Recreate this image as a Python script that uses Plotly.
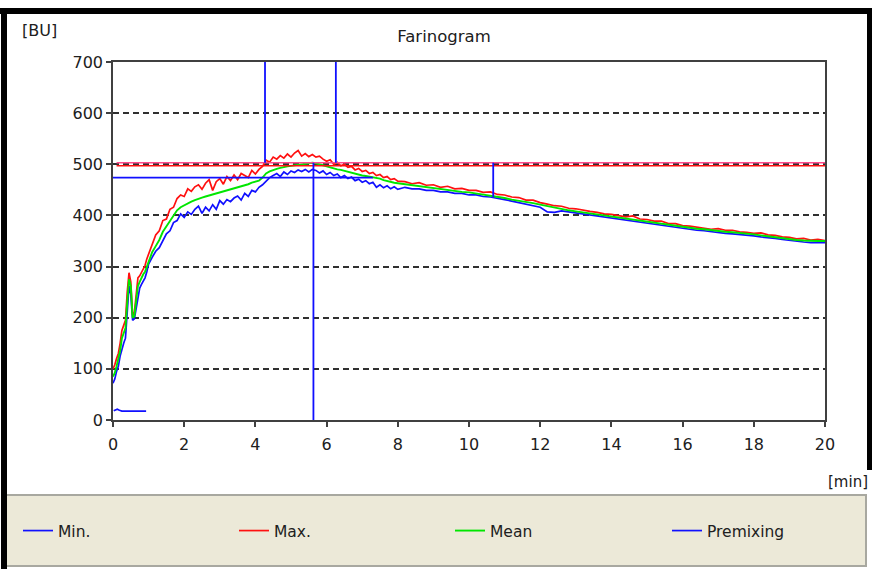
import plotly.graph_objects as go

# ---------------- data ----------------
time_min = [
    0.00, 0.05, 0.10, 0.15, 0.20, 0.25, 0.30, 0.35, 0.40, 0.45, 0.50,
    0.55, 0.60, 0.65, 0.70, 0.75, 0.80, 0.85, 0.90, 0.95, 1.00,
    1.1, 1.2, 1.3, 1.4, 1.5, 1.6, 1.7, 1.8, 1.9, 2.0,
    2.1, 2.2, 2.3, 2.4, 2.5, 2.6, 2.7, 2.8, 2.9, 3.0,
    3.1, 3.2, 3.3, 3.4, 3.5, 3.6, 3.7, 3.8, 3.9, 4.0,
    4.1, 4.2, 4.3, 4.4, 4.5, 4.6, 4.7, 4.8, 4.9, 5.0,
    5.1, 5.2, 5.3, 5.4, 5.5, 5.6, 5.7, 5.8, 5.9, 6.0,
    6.1, 6.2, 6.3, 6.4, 6.5, 6.6, 6.7, 6.8, 6.9, 7.0,
    7.1, 7.2, 7.3, 7.4, 7.5, 7.6, 7.7, 7.8, 7.9, 8.0,
    8.2, 8.4, 8.6, 8.8, 9.0, 9.2, 9.4, 9.6, 9.8, 10.0,
    10.2, 10.4, 10.6, 10.8, 11.0, 11.2, 11.4, 11.6, 11.8, 12.0,
    12.2, 12.4, 12.6, 12.8, 13.0, 13.2, 13.4, 13.6, 13.8, 14.0,
    14.2, 14.4, 14.6, 14.8, 15.0, 15.2, 15.4, 15.6, 15.8, 16.0,
    16.2, 16.4, 16.6, 16.8, 17.0, 17.2, 17.4, 17.6, 17.8, 18.0,
    18.2, 18.4, 18.6, 18.8, 19.0, 19.2, 19.4, 19.6, 19.8, 20.0,
]

bu_max = [
    100, 108, 120, 130, 150, 175, 185, 195, 250, 288, 270,
    205, 210, 250, 278, 282, 288, 295, 302, 315, 325,
    345, 362, 370, 390, 393, 412, 416, 433, 440, 437,
    452, 447, 456, 460, 451, 463, 470, 449, 466, 472,
    461, 476, 468, 479, 470, 482, 478, 474, 488, 481,
    490, 496, 508, 504, 514, 510, 517, 512, 520, 514,
    522, 527, 516, 521, 515, 519, 514, 516, 510, 506,
    509, 500, 504, 497, 500, 494, 496, 489, 492, 486,
    488, 482, 484, 478, 480, 474, 476, 470, 472, 467,
    466, 462, 464, 459, 460, 455, 457, 452, 453, 449,
    449, 445, 446, 441, 440, 436, 435, 430, 430, 425,
    422, 419, 418, 414, 413, 410, 408, 406, 403, 402,
    399, 397, 399, 393, 392, 389, 389, 384, 384, 380,
    379, 377, 376, 373, 374, 371, 371, 368, 367, 365,
    366, 362, 361, 358, 357, 354, 355, 352, 353, 351,
]

bu_mean = [
    85, 92, 105, 118, 135, 160, 170, 180, 230, 275, 262,
    200, 203, 235, 262, 270, 278, 285, 290, 300, 310,
    328, 340, 352, 368, 378, 390, 400, 410, 416, 420,
    424, 427, 430, 433, 435, 437, 439, 440, 442, 444,
    446, 448, 450, 452, 454, 456, 458, 461, 464, 466,
    468, 474, 482, 486, 489, 491, 493, 495, 496, 497,
    498, 499, 500, 501, 502, 503, 502, 500, 497, 495,
    493, 492, 490, 489, 487, 485, 483, 481, 479, 478,
    477, 476, 475, 474, 472, 469, 467, 465, 464, 463,
    461, 459, 457, 455, 453, 451, 450, 448, 446, 445,
    443, 441, 439, 437, 434, 431, 429, 426, 424, 421,
    418, 416, 413, 410, 408, 406, 404, 402, 400, 398,
    396, 394, 392, 390, 388, 386, 384, 381, 379, 378,
    376, 374, 373, 371, 370, 368, 367, 366, 364, 363,
    361, 359, 357, 355, 354, 352, 351, 350, 350, 350,
]

bu_min = [
    72, 80, 95, 105, 125, 140, 150, 160, 210, 262, 245,
    195, 198, 220, 240, 258, 265, 272, 278, 290, 305,
    318, 330, 337, 350, 364, 370, 386, 390, 403, 396,
    407, 402, 412, 418, 404, 416, 409, 421, 412, 429,
    422, 431, 427, 434, 438, 430, 443, 437, 449, 446,
    455, 460, 468, 474, 478, 482, 476, 485, 480, 487,
    484, 489, 486, 490, 485, 490, 488, 483, 487, 480,
    484, 478, 481, 474, 478, 472, 475, 468, 471, 465,
    468, 462, 465, 455, 460, 454, 458, 452, 456, 451,
    455, 452, 452, 449, 449, 446, 446, 443, 443, 440,
    440, 437, 436, 434, 431, 428, 425, 422, 420, 416,
    407, 406, 409, 407, 405, 402, 401, 399, 397, 395,
    393, 391, 389, 387, 385, 383, 381, 378, 376, 375,
    373, 371, 370, 368, 367, 365, 364, 363, 361, 360,
    358, 357, 355, 353, 351, 349, 348, 347, 347, 347,
]

premix_time = [0.02, 0.08, 0.12, 0.18, 0.25, 0.40, 0.60, 0.80, 0.93]
premix_bu = [18, 20, 21, 19, 17.5, 17.5, 17.5, 17.5, 17.5]

x_ticks = [0, 2, 4, 6, 8, 10, 12, 14, 16, 18, 20]
y_ticks = [0, 100, 200, 300, 400, 500, 600, 700]

# evaluation lines
consistency_bu = [503, 497]          # upper (pink) and lower (red) 500 BU lines
consistency_t = [0.1, 20]
tolerance_bu = 474                   # blue horizontal line
tolerance_t = [0, 7.3]
vline_t = [4.27, 6.26, 5.63, 10.68]
vline_from = [503, 503, 0, 436]
vline_to = [700, 700, 503, 503]

# ---------------- layout constants ----------------
W, H = 872, 569
ML, MR, MT, MB = 113, 47, 62, 149
PW, PH = W - ML - MR, H - MT - MB


def px_x(X):
    return (X - ML) / PW


def px_y(Y):
    return (H - MB - Y) / PH


BLUE = "#1010FF"
RED = "#FF1010"
GREEN = "#00E600"
PINK = "#FF4C8C"
FONT = "DejaVu Sans"
TXT = "#202020"

fig = go.Figure()

fig.add_trace(go.Scatter(x=time_min, y=bu_min, mode="lines", name="Min.",
                         line=dict(color=BLUE, width=1.7)))
fig.add_trace(go.Scatter(x=time_min, y=bu_max, mode="lines", name="Max.",
                         line=dict(color=RED, width=1.7)))
fig.add_trace(go.Scatter(x=time_min, y=bu_mean, mode="lines", name="Mean",
                         line=dict(color=GREEN, width=1.9)))
fig.add_trace(go.Scatter(x=premix_time, y=premix_bu, mode="lines", name="Premixing",
                         line=dict(color=BLUE, width=1.7), legend="legend2"))

shapes = []
# legend panel
shapes.append(dict(type="rect", xref="paper", yref="paper",
                   x0=px_x(5), x1=px_x(866), y0=px_y(566), y1=px_y(495),
                   fillcolor="#ECE9D8", line=dict(color="#A8A8A0", width=2),
                   layer="below"))
# horizontal evaluation lines
for c, yv in zip([PINK, RED], consistency_bu):
    shapes.append(dict(type="line", xref="x", yref="y",
                       x0=consistency_t[0], x1=consistency_t[1], y0=yv, y1=yv,
                       line=dict(color=c, width=1.5)))
shapes.append(dict(type="line", xref="x", yref="y",
                   x0=tolerance_t[0], x1=tolerance_t[1],
                   y0=tolerance_bu, y1=tolerance_bu,
                   line=dict(color=BLUE, width=1.8)))
for t, a, b in zip(vline_t, vline_from, vline_to):
    shapes.append(dict(type="line", xref="x", yref="y",
                       x0=t, x1=t, y0=a, y1=b,
                       line=dict(color=BLUE, width=1.8)))
# black frame of the screenshot
shapes.append(dict(type="rect", xref="paper", yref="paper",
                   x0=px_x(0), x1=px_x(872), y0=px_y(14), y1=px_y(8),
                   fillcolor="black", line=dict(width=0)))
shapes.append(dict(type="rect", xref="paper", yref="paper",
                   x0=px_x(1), x1=px_x(7), y0=px_y(569), y1=px_y(8),
                   fillcolor="black", line=dict(width=0)))
shapes.append(dict(type="rect", xref="paper", yref="paper",
                   x0=px_x(867), x1=px_x(872), y0=px_y(470), y1=px_y(8),
                   fillcolor="black", line=dict(width=0)))

annotations = [
    dict(text="[BU]", xref="paper", yref="paper", x=px_x(39), y=px_y(30),
         xanchor="center", yanchor="middle", showarrow=False,
         font=dict(family=FONT, size=16, color=TXT)),
    dict(text="[min]", xref="paper", yref="paper", x=px_x(870), y=px_y(482),
         xanchor="right", yanchor="middle", showarrow=False,
         font=dict(family=FONT, size=15, color=TXT)),
]

axis_common = dict(showline=True, linecolor="#404040", linewidth=1.5, mirror=True,
                   ticks="outside", ticklen=5, tickcolor="#404040", tickwidth=1.5,
                   tickfont=dict(family=FONT, size=16, color=TXT), zeroline=False)

legend_common = dict(orientation="h", xanchor="left", y=px_y(531), yanchor="middle",
                     bgcolor="rgba(0,0,0,0)", entrywidth=171, entrywidthmode="pixels",
                     font=dict(family=FONT, size=15.5, color=TXT))

fig.update_layout(
    width=W, height=H, autosize=False,
    margin=dict(l=ML, r=MR, t=MT, b=MB, autoexpand=False),
    paper_bgcolor="white", plot_bgcolor="white",
    title=dict(text="Farinogram", x=444 / W, xanchor="center",
               y=1 - 36 / H, yanchor="middle",
               font=dict(family=FONT, size=16.5, color=TXT)),
    xaxis=dict(range=[0, 20], tickvals=x_ticks, showgrid=False,
               ticklabelstandoff=4, automargin=False, **axis_common),
    yaxis=dict(range=[0, 700], tickvals=y_ticks, showgrid=True,
               gridcolor="#303030", gridwidth=1.5, griddash="6px,4px",
               automargin=False, **axis_common),
    showlegend=True,
    legend=dict(x=px_x(18), **legend_common),
    legend2=dict(x=px_x(667), **legend_common),
    shapes=shapes,
    annotations=annotations,
)

fig.write_html("out.html")
